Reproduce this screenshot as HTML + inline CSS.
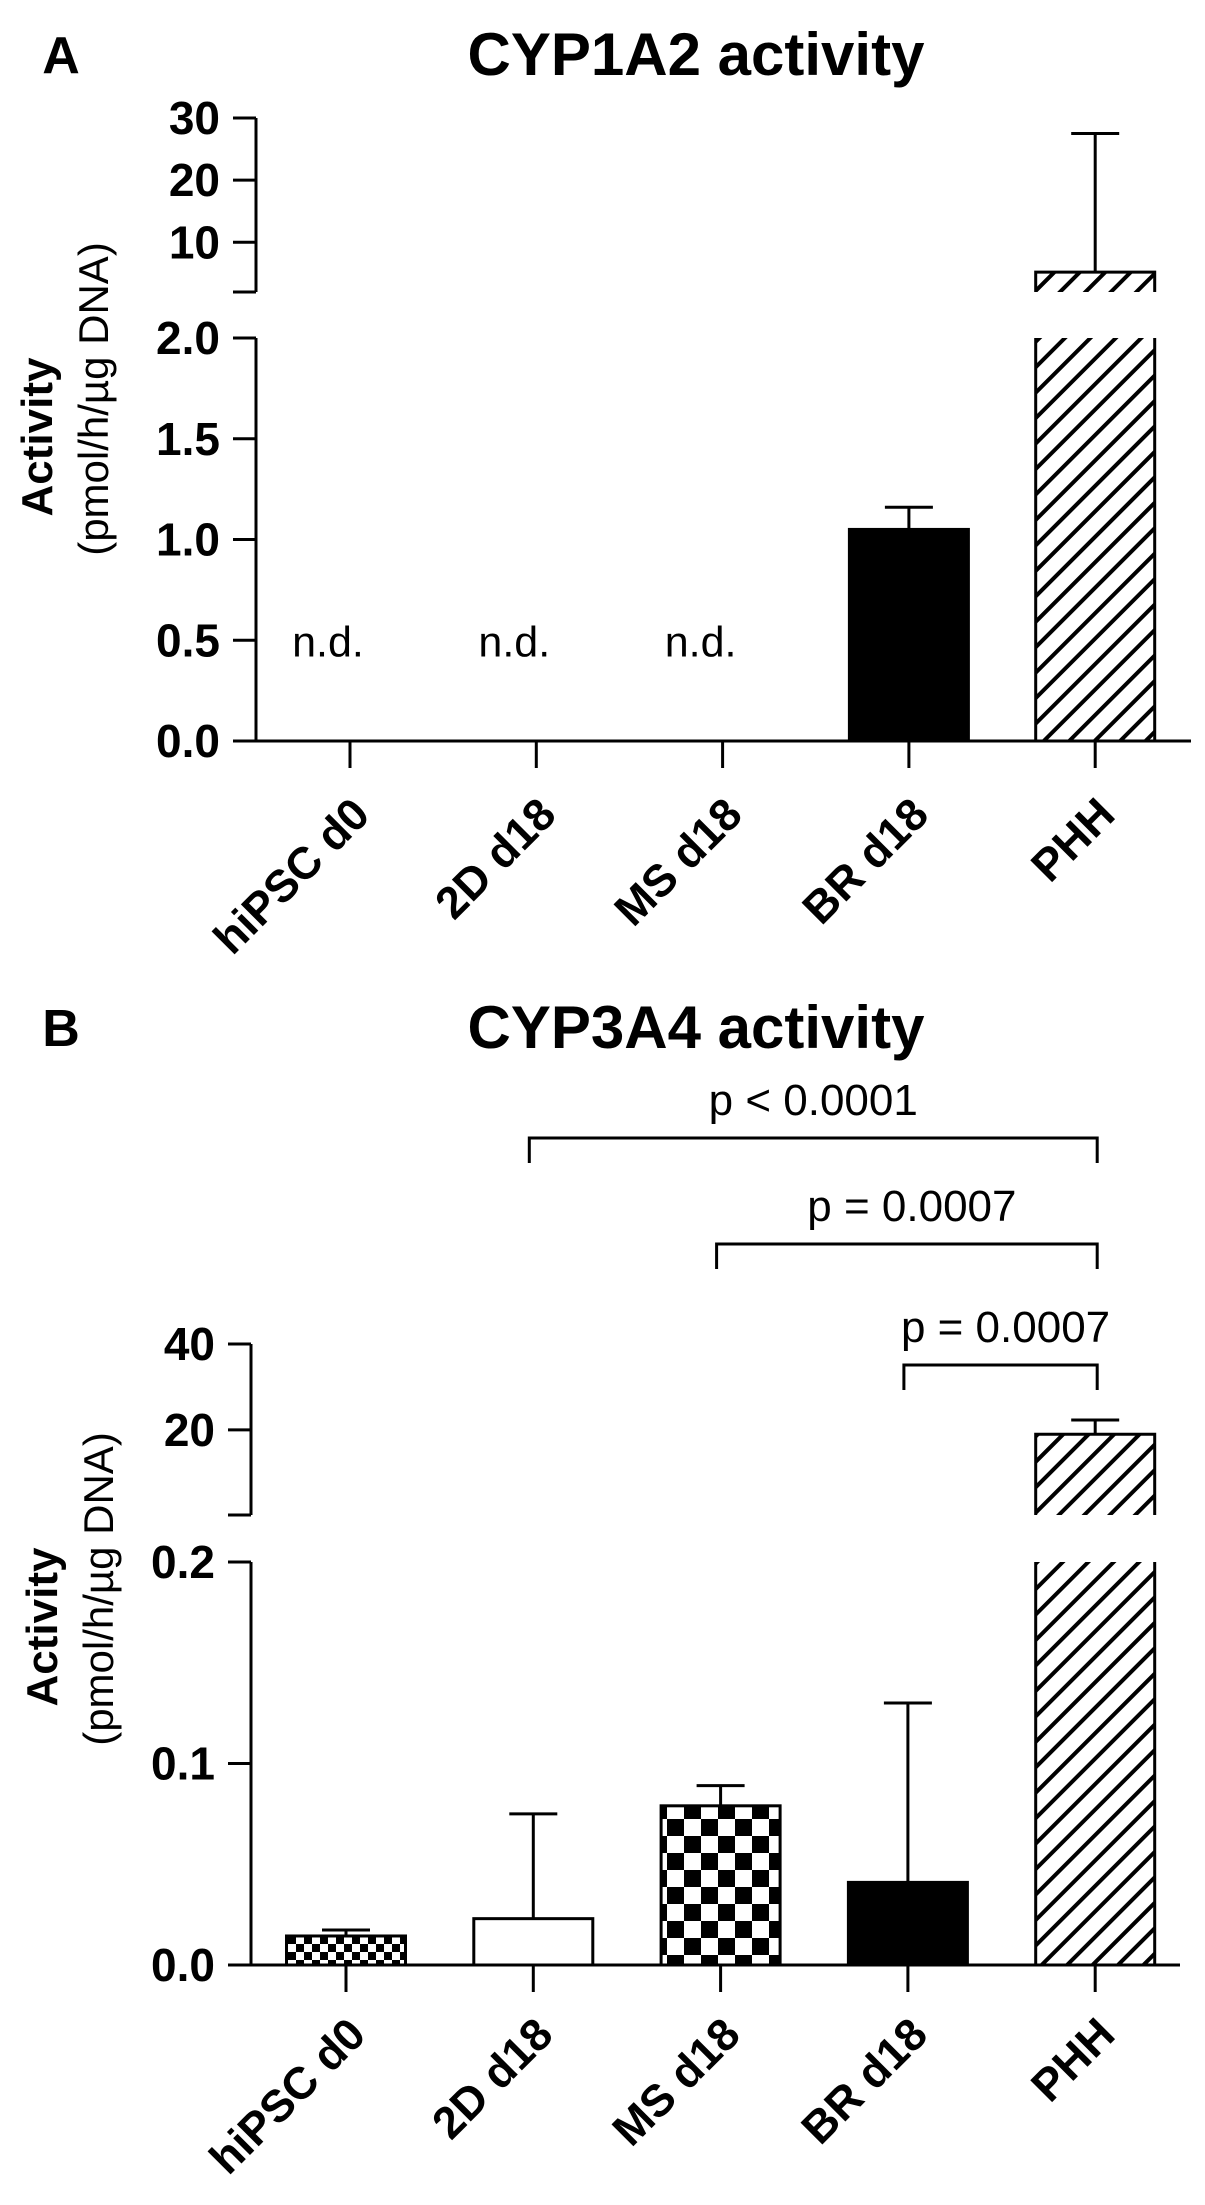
<!DOCTYPE html>
<html><head><meta charset="utf-8"><style>
html,body{margin:0;padding:0;background:#fff;}
svg{display:block;font-family:"Liberation Sans",Arial,sans-serif;}
</style></head><body>
<svg id="fig" width="1205" height="2205" viewBox="0 0 1205 2205">
<defs>
<pattern id="hatch" width="18" height="18" patternUnits="userSpaceOnUse" patternTransform="rotate(45)">
<rect width="18" height="18" fill="#fff"/><rect x="0" y="0" width="4" height="18" fill="#000"/></pattern>
<pattern id="checkS" width="16" height="16" patternUnits="userSpaceOnUse">
<rect width="16" height="16" fill="#fff"/><rect width="8" height="8" fill="#000"/><rect x="8" y="8" width="8" height="8" fill="#000"/></pattern>
<pattern id="checkL" width="34" height="34" patternUnits="userSpaceOnUse" x="4">
<rect width="34" height="34" fill="#fff"/><rect width="17" height="17" fill="#000"/><rect x="17" y="17" width="17" height="17" fill="#000"/></pattern>
</defs>
<g id="gA"></g>
<g id="gB"></g>
</svg>
<script>
const categories = ["hiPSC d0","2D d18","MS d18","BR d18","PHH"];
// Panel A (CYP1A2)
const aValues = [null, null, null, 1.05, 5.2];
const aErrors = [null, null, null, 1.16, 27.5];
const aLowTicks = [0.0, 0.5, 1.0, 1.5, 2.0];
const aLowTickLabels = ["0.0","0.5","1.0","1.5","2.0"];
const aHighTicks = [10, 20, 30];
const aHighTickLabels = ["10","20","30"];
const aFills = ["#fff","#fff","#fff","#000","url(#hatch)"];
// Panel B (CYP3A4)
const bValues = [0.0144, 0.023, 0.079, 0.041, 19];
const bErrors = [0.0174, 0.075, 0.089, 0.13, 22.3];
const bLowTicks = [0.0, 0.1, 0.2];
const bLowTickLabels = ["0.0","0.1","0.2"];
const bHighTicks = [20, 40];
const bHighTickLabels = ["20","40"];
const bFills = ["url(#checkS)","#fff","url(#checkL)","#000","url(#hatch)"];
const bBrackets = [[1,4,"p < 0.0001"],[2,4,"p = 0.0007"],[3,4,"p = 0.0007"]];

const NS="http://www.w3.org/2000/svg";
function mk(parent,tag,attrs,text){const e=document.createElementNS(NS,tag);for(const k in attrs)e.setAttribute(k,attrs[k]);if(text!==undefined)e.textContent=text;parent.appendChild(e);return e;}

function panel(g,cfg){
  const xs=i=>cfg.x0+i*cfg.step;
  const yLow=v=>cfg.lowY0-(v-cfg.lowMin)*(cfg.lowY0-cfg.lowY1)/(cfg.lowMax-cfg.lowMin);
  const yHigh=v=>cfg.highY0-(v-cfg.highMin)*(cfg.highY0-cfg.highY1)/(cfg.highMax-cfg.highMin);
  let t=mk(g,'text',{x:61,y:cfg.titleY+19,'font-size':52,'font-weight':'bold','text-anchor':'middle'},cfg.letter);
  
  
  t=mk(g,'text',{x:696,y:cfg.titleY+21,'font-size':60,'font-weight':'bold','text-anchor':'middle'},cfg.title);
  
  
  // y title
  const yt=mk(g,'g',{transform:`translate(${cfg.ytX},0) rotate(-90)`});
  
  
  mk(yt,'text',{x:-cfg.ytY,y:0,'font-size':44,'font-weight':'bold','text-anchor':'middle'},'Activity');
  mk(yt,'text',{x:-cfg.ytY2,y:56,'font-size':42,'text-anchor':'middle'},'(pmol/h/µg DNA)');
  // axes
  const ax=mk(g,'g',{stroke:'#000','stroke-width':3,fill:'none'});
  
  
  mk(ax,'line',{x1:cfg.axX,y1:yHigh(cfg.highMax),x2:cfg.axX,y2:cfg.highY0});
  mk(ax,'line',{x1:cfg.axX-23,y1:cfg.highY0,x2:cfg.axX,y2:cfg.highY0});
  mk(ax,'line',{x1:cfg.axX,y1:yLow(cfg.lowMax),x2:cfg.axX,y2:cfg.lowY0});
  const tl=(y,lab)=>{mk(ax,'line',{x1:cfg.axX-23,y1:y,x2:cfg.axX,y2:y});
    const e=mk(g,'text',{x:cfg.axX-36,y:y+16,'font-size':46,'font-weight':'bold','text-anchor':'end'},lab);
    
    };
  cfg.lowTicks.forEach((v,i)=>tl(yLow(v),cfg.lowLabels[i]));
  cfg.highTicks.forEach((v,i)=>tl(yHigh(v),cfg.highLabels[i]));
  const xa=mk(g,'g',{stroke:'#000','stroke-width':3});
  
  
  mk(xa,'line',{x1:cfg.axX,y1:cfg.lowY0,x2:cfg.axEnd,y2:cfg.lowY0});
  categories.forEach((c,i)=>{
    const x=xs(i);
    mk(xa,'line',{x1:x,y1:cfg.lowY0,x2:x,y2:cfg.lowY0+27});
    const bx=x+22, by=cfg.lowY0+cfg.labDy;
    const e=mk(g,'text',{x:bx,y:by,'font-size':45,'font-weight':'bold','text-anchor':'end',transform:`rotate(-45 ${bx} ${by})`},c);
    
    
  });
  // bars
  const hw=61;
  cfg.values.forEach((v,i)=>{
    const x=xs(i);
    if(v===null){
      const e=mk(g,'text',{x:x-22,y:yLow(0.5)+16,'font-size':43,'text-anchor':'middle'},'n.d.');
      
      
      return;}
    const bg=mk(g,'g',{});
    
    
    const err=cfg.errors[i];
    if(v<=cfg.lowMax){
      const yt2=yLow(v);
      if(err!==null){mk(bg,'line',{x1:x,y1:yLow(err),x2:x,y2:yt2,stroke:'#000','stroke-width':3});
        mk(bg,'line',{x1:x-24,y1:yLow(err),x2:x+24,y2:yLow(err),stroke:'#000','stroke-width':3});}
      mk(bg,'rect',{x:x-hw+1.5,y:yt2,width:2*hw-3,height:cfg.lowY0-yt2,fill:cfg.fills[i],stroke:'#000','stroke-width':3});
    } else {
      const ylt=yLow(cfg.lowMax);
      mk(bg,'rect',{x:x-hw+1.5,y:ylt,width:2*hw-3,height:cfg.lowY0-ylt,fill:cfg.fills[i],stroke:'none'});
      mk(bg,'path',{d:`M${x-hw+1.5},${ylt} V${cfg.lowY0} H${x+hw-1.5} V${ylt}`,fill:'none',stroke:'#000','stroke-width':3});
      const yh=yHigh(v);
      if(err!==null){mk(bg,'line',{x1:x,y1:yHigh(err),x2:x,y2:yh,stroke:'#000','stroke-width':3});
        mk(bg,'line',{x1:x-24,y1:yHigh(err),x2:x+24,y2:yHigh(err),stroke:'#000','stroke-width':3});}
      mk(bg,'rect',{x:x-hw+1.5,y:yh,width:2*hw-3,height:cfg.highY0-yh,fill:cfg.fills[i],stroke:'none'});
      mk(bg,'path',{d:`M${x-hw+1.5},${cfg.highY0} V${yh} H${x+hw-1.5} V${cfg.highY0}`,fill:'none',stroke:'#000','stroke-width':3});
    }
  });
  // brackets
  (cfg.brackets||[]).forEach((b,k)=>{
    const yb=cfg.brY[k];
    const bg=mk(g,'g',{});
    
    
    const x1=xs(b[0])-4,x2=xs(b[1])+2;
    mk(bg,'path',{d:`M${x1},${yb+25} V${yb} H${x2} V${yb+25}`,fill:'none',stroke:'#000','stroke-width':3});
    mk(bg,'text',{x:(x1+x2)/2+(k==0?0:5),y:yb-23,'font-size':44,'text-anchor':'middle'},b[2]);
  });
}

panel(document.getElementById('gA'),{letter:'A',title:'CYP1A2 activity',titleY:54,ytX:52,ytY:437,ytY2:399,labDy:76,
  axX:256,axEnd:1191,x0:350,step:186.3,
  lowMin:0,lowMax:2,lowY0:741,lowY1:338,highMin:2,highMax:30,highY0:292,highY1:118,
  lowTicks:aLowTicks,lowLabels:aLowTickLabels,highTicks:aHighTicks,highLabels:aHighTickLabels,
  values:aValues,errors:aErrors,fills:aFills});
panel(document.getElementById('gB'),{letter:'B',title:'CYP3A4 activity',titleY:1027,ytX:57,ytY:1627,ytY2:1589,labDy:72,
  axX:251,axEnd:1180,x0:346,step:187.3,
  lowMin:0,lowMax:0.2,lowY0:1965,lowY1:1562,highMin:0.2,highMax:40,highY0:1515,highY1:1344,
  lowTicks:bLowTicks,lowLabels:bLowTickLabels,highTicks:bHighTicks,highLabels:bHighTickLabels,
  values:bValues,errors:bErrors,fills:bFills,brackets:bBrackets,brY:[1138,1244,1365]});
</script>
</body></html>
